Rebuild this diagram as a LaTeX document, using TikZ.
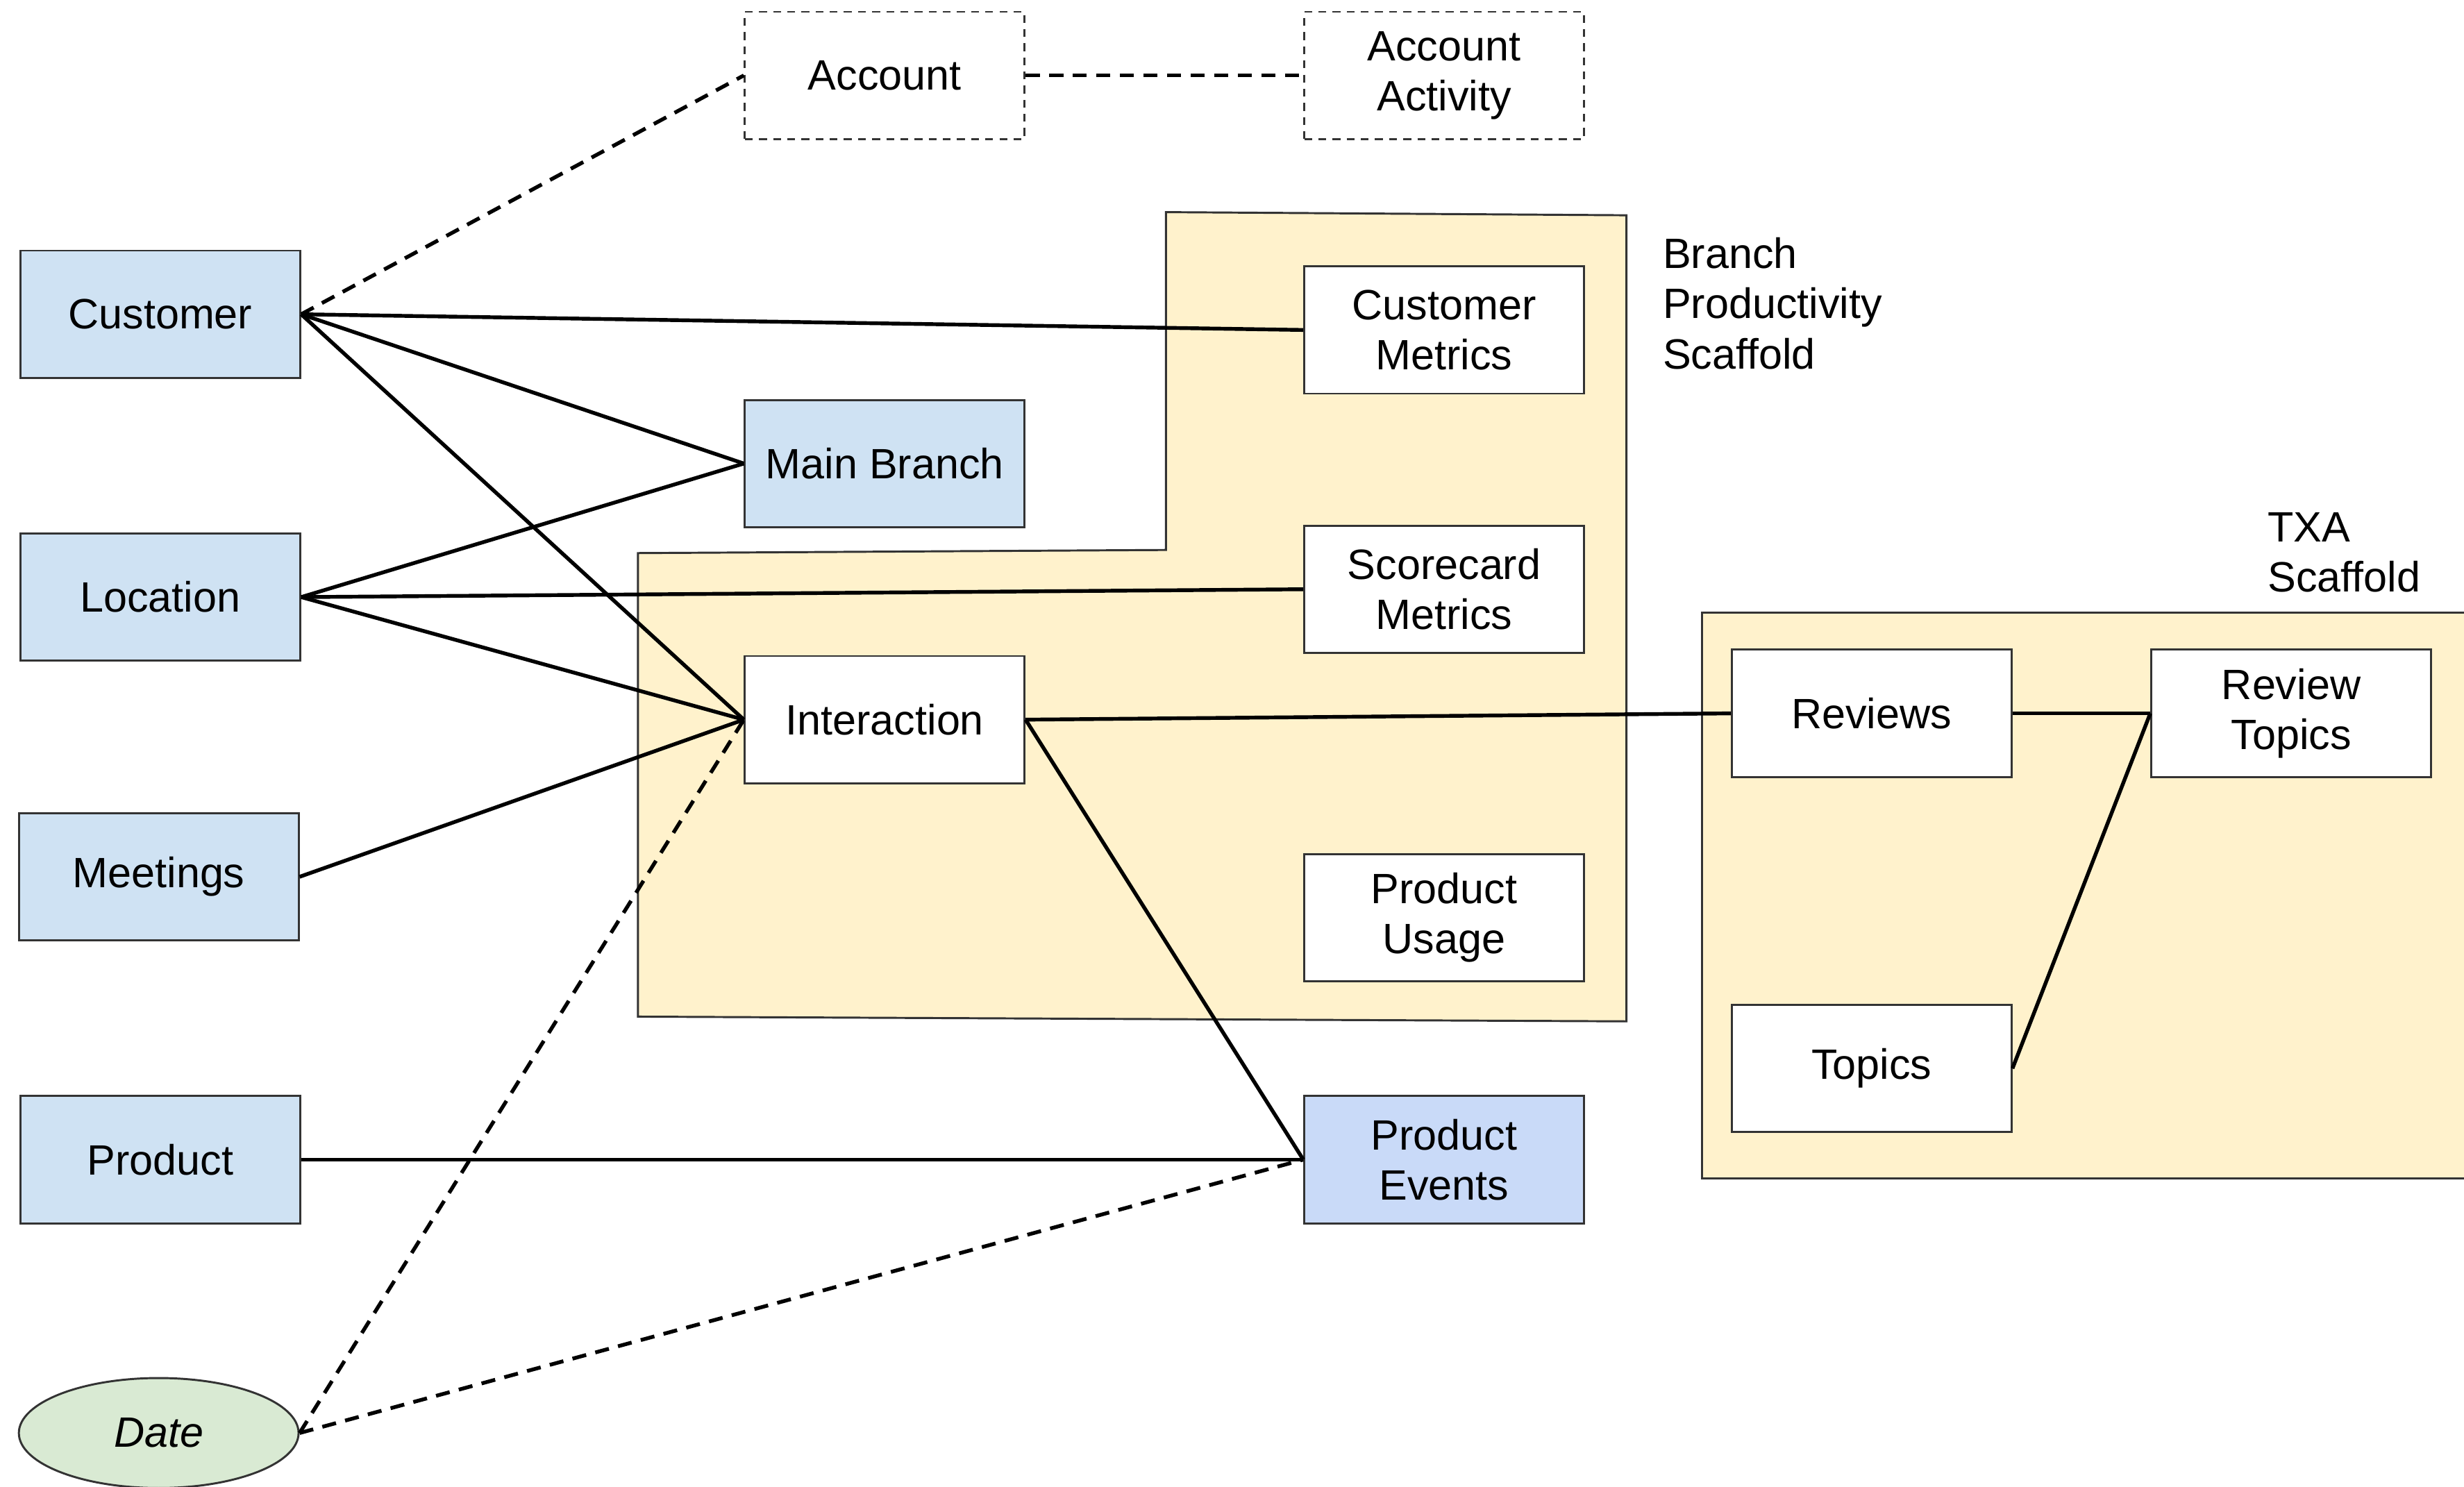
\documentclass[tikz,border=0pt]{standalone}
\usepackage{fontspec}
\setmainfont{Liberation Sans}
\usetikzlibrary{shapes.geometric}
\definecolor{entblue}{HTML}{CFE2F3}
\definecolor{evblue}{HTML}{C9DAF8}
\definecolor{dategreen}{HTML}{D9EAD3}
\definecolor{scaf}{HTML}{FFF2CC}
\definecolor{edge}{HTML}{333333}
\begin{document}
\begin{tikzpicture}[x=1pt,y=-1pt,
  every node/.style={font=\fontsize{27}{32}\selectfont},
  box/.style={draw=edge,line width=1.3pt,minimum width=178pt,minimum height=81pt,inner sep=0pt,align=center,fill=white},
  ent/.style={box,fill=entblue},
  ghost/.style={box,dashed,dash pattern=on 5pt off 4pt},
  link/.style={line width=2.4pt,black},
  dlink/.style={link,dash pattern=on 9pt off 6pt},
  scaffold/.style={draw=edge,line width=1.3pt,fill=scaf},
  lbl/.style={anchor=north west,inner sep=0pt,align=left}]
\clip (0,0) rectangle (1568,946);
\fill[white] (0,0) rectangle (1568,946);
% scaffolds
\draw[scaffold] (742,135) -- (1035,137) -- (1035,650) -- (406,647) -- (406,352) -- (742,350) -- cycle;
\draw[scaffold] (1083,390) rectangle (1600,750);
\node[lbl] (lblbp) at (1058,151) {Branch\\Productivity\\Scaffold};
\node[lbl] (lbltxa) at (1443,326) {TXA\\Scaffold};
% nodes
\node[ghost] (acc) at (563,48) {Account};
\node[ghost] (accact) at (919,48) {Account\\Activity};
\node[ent] (cust) at (102,200) {Customer};
\node[ent] (mainb) at (563,295) {Main Branch};
\node[ent] (loc) at (102,380) {Location};
\node[box] (inter) at (563,458) {Interaction};
\node[ent] (meet) at (101,558) {Meetings};
\node[ent] (prod) at (102,738) {Product};
\node[draw=edge,line width=1.3pt,fill=dategreen,ellipse,minimum width=178pt,minimum height=70pt,inner sep=0pt,font=\fontsize{27}{32}\selectfont\itshape] (date) at (101,912) {Date};
\node[box] (custm) at (919,210) {Customer\\Metrics};
\node[box] (scm) at (919,375) {Scorecard\\Metrics};
\node[box] (pusage) at (919,584) {Product\\Usage};
\node[box,fill=evblue] (pev) at (919,738) {Product\\Events};
\node[box] (rev) at (1191,454) {Reviews};
\node[box] (revt) at (1458,454) {Review\\Topics};
\node[box] (top) at (1191,680) {Topics};
% connectors
\draw[dlink] (cust.east) -- (acc.west);
\draw[dlink] (acc.east) -- (accact.west);
\draw[link] (cust.east) -- (custm.west);
\draw[link] (cust.east) -- (mainb.west);
\draw[link] (cust.east) -- (inter.west);
\draw[link] (loc.east) -- (mainb.west);
\draw[link] (loc.east) -- (scm.west);
\draw[link] (loc.east) -- (inter.west);
\draw[link] (meet.east) -- (inter.west);
\draw[link] (prod.east) -- (pev.west);
\draw[dlink] (date.east) -- (inter.west);
\draw[dlink] (date.east) -- (pev.west);
\draw[link] (inter.east) -- (rev.west);
\draw[link] (inter.east) -- (pev.west);
\draw[link] (rev.east) -- (revt.west);
\draw[link] (top.east) -- (revt.west);
\end{tikzpicture}
\end{document}
